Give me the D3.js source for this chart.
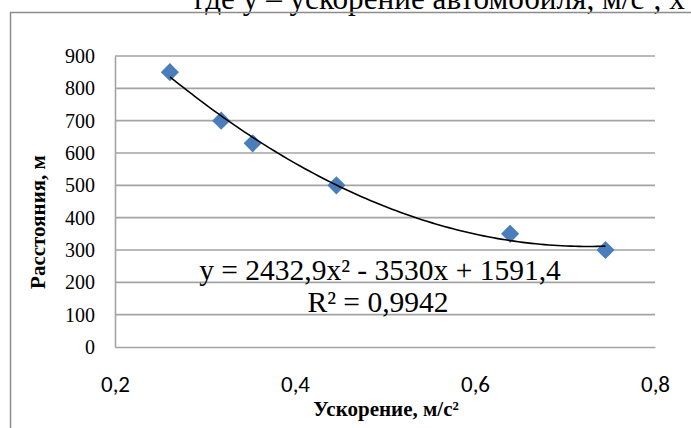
<!DOCTYPE html>
<html>
<head>
<meta charset="utf-8">
<script src="https://cdn.jsdelivr.net/npm/d3@7"></script>
<style>
  html, body { margin: 0; padding: 0; background: #fff; }
  svg { display: block; }
</style>
</head>
<body>
<svg id="chart" width="691" height="428"></svg>
<script>
// Measured points: acceleration (m/s²) vs distance (m)
const accel = [0.261, 0.318, 0.353, 0.446, 0.639, 0.745];
const distance = [850, 700, 630, 500, 350, 300];

// Polynomial trend line coefficients (y = a·x² + b·x + c)
const trendCoef = [2432.9, -3530, 1591.4];
const trendLabel = "y = 2432,9x² - 3530x + 1591,4";
const r2Label = "R² = 0,9942";

const xTicks = [0.2, 0.4, 0.6, 0.8];
const yTicks = [0, 100, 200, 300, 400, 500, 600, 700, 800, 900];

const xTitle = "Ускорение, м/с²";
const yTitle = "Расстояния, м";
const captionText = "где у – ускорение автомобиля, м/с², х";

const svg = d3.select("#chart");
const serif = "'Liberation Serif', 'Times New Roman', serif";
const sans = "Carlito, 'Liberation Sans', 'Open Sans', sans-serif";

// Surrounding paragraph text, running past the top edge
svg.append("text")
  .attr("x", 194).attr("y", 9)
  .attr("font-family", serif).attr("font-size", 31.2)
  .attr("fill", "#000")
  .text(captionText);

// Chart frame (left and top edges)
svg.append("path")
  .attr("d", "M10.5,428 L10.5,12.5 L691,12.5")
  .attr("fill", "none").attr("stroke", "#8c8c8c").attr("stroke-width", 1.5);

const plot = { left: 115, right: 655, top: 56, bottom: 347 };

const x = d3.scaleLinear().domain([0.2, 0.8]).range([plot.left, plot.right]);
const y = d3.scaleLinear().domain([0, 900]).range([plot.bottom, plot.top]);

// Horizontal gridlines
svg.append("g").selectAll("line")
  .data(yTicks.filter(d => d > 0))
  .join("line")
  .attr("x1", plot.left).attr("x2", plot.right)
  .attr("y1", d => y(d)).attr("y2", d => y(d))
  .attr("stroke", "#a3a3a3").attr("stroke-width", 1.6);

// Y axis
const yAxis = svg.append("g")
  .attr("transform", `translate(${plot.left},0)`)
  .call(d3.axisLeft(y).tickValues(yTicks).tickSize(0).tickPadding(20).tickFormat(d3.format("d")));
yAxis.select(".domain").attr("stroke", "#a3a3a3").attr("stroke-width", 1.6);
yAxis.selectAll("text")
  .attr("font-family", serif).attr("font-size", 20).attr("fill", "#000");

// X axis
const xAxis = svg.append("g")
  .attr("transform", `translate(0,${plot.bottom})`)
  .call(d3.axisBottom(x).tickValues(xTicks).tickSize(0).tickPadding(29)
    .tickFormat(d => d3.format(".1f")(d).replace(".", ",")));
xAxis.select(".domain").attr("stroke", "#a3a3a3").attr("stroke-width", 1.6);
xAxis.selectAll("text")
  .attr("font-family", sans).attr("font-size", 23).attr("fill", "#000");

// Axis titles
svg.append("text")
  .attr("x", 386).attr("y", 416)
  .attr("text-anchor", "middle")
  .attr("font-family", serif).attr("font-weight", "bold").attr("font-size", 21)
  .text(xTitle);

svg.append("text")
  .attr("transform", "translate(45,222) rotate(-90)")
  .attr("text-anchor", "middle")
  .attr("font-family", serif).attr("font-weight", "bold").attr("font-size", 21)
  .text(yTitle);

// Data markers (diamonds)
const diamond = d3.symbol().type(d3.symbolSquare).size(165);
svg.append("g").selectAll("path")
  .data(accel.map((a, i) => [a, distance[i]]))
  .join("path")
  .attr("d", diamond)
  .attr("transform", d => `translate(${x(d[0])},${y(d[1])}) rotate(45)`)
  .attr("fill", "#4a7ebb");

// Trend line computed from the fitted polynomial over the data range
const [a2, a1, a0] = trendCoef;
const xMin = d3.min(accel), xMax = d3.max(accel);
const trendPts = d3.range(0, 101).map(i => {
  const t = xMin + (xMax - xMin) * i / 100;
  return [t, a2 * t * t + a1 * t + a0];
});
svg.append("path")
  .datum(trendPts)
  .attr("d", d3.line().x(d => x(d[0])).y(d => y(d[1])))
  .attr("fill", "none").attr("stroke", "#000").attr("stroke-width", 1.6);

// Trend equation label
svg.append("text")
  .attr("x", 380).attr("y", 280)
  .attr("text-anchor", "middle")
  .attr("font-family", serif).attr("font-size", 29.5)
  .text(trendLabel);
svg.append("text")
  .attr("x", 378).attr("y", 312)
  .attr("text-anchor", "middle")
  .attr("font-family", serif).attr("font-size", 29.5)
  .text(r2Label);
</script>
</body>
</html>
